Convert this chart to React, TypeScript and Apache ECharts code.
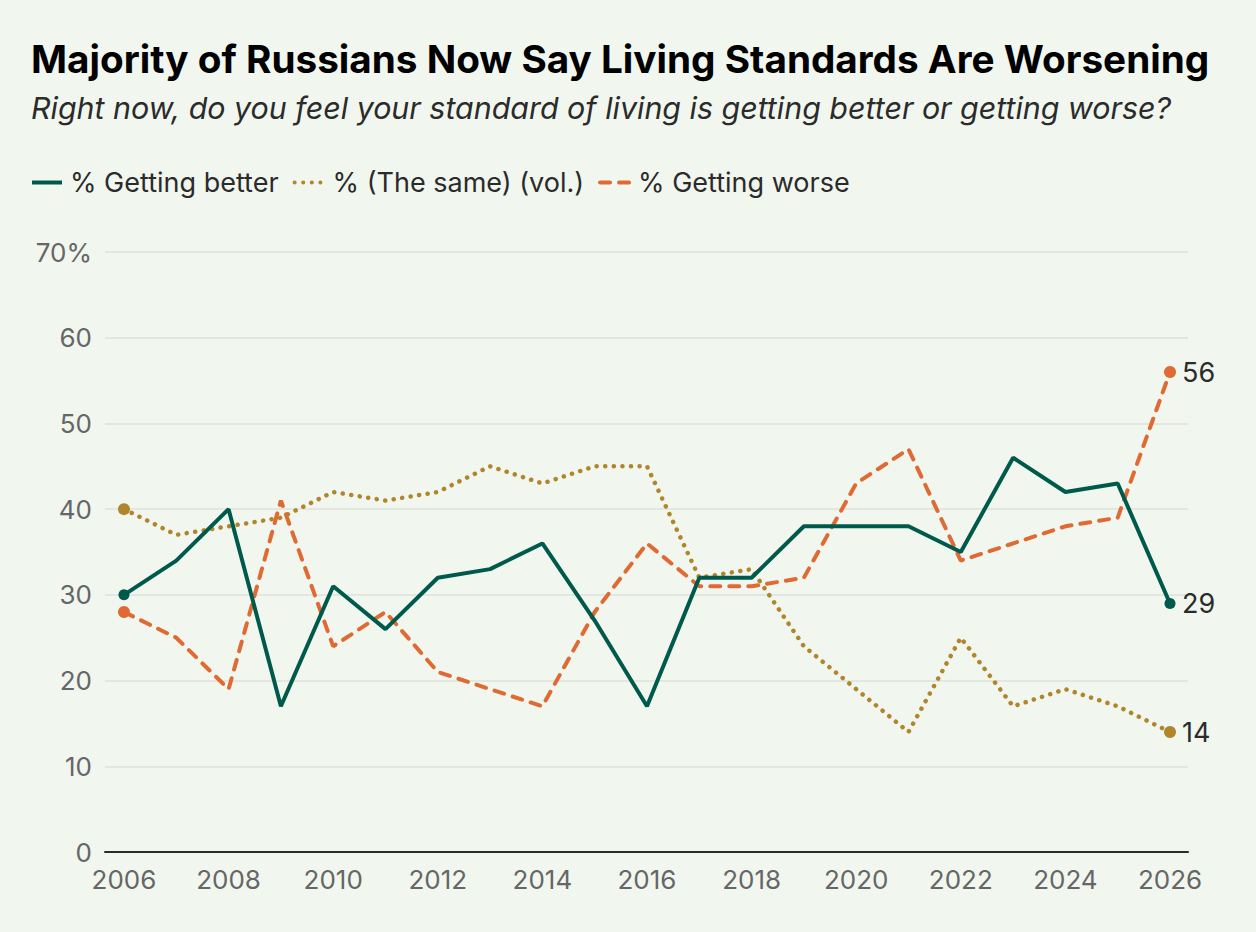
import React, { useEffect, useRef } from 'react'
import * as echarts from 'echarts'

// Survey years and values (% of respondents)
const years = [
  2006, 2007, 2008, 2009, 2010, 2011, 2012, 2013, 2014, 2015, 2016,
  2017, 2018, 2019, 2020, 2021, 2022, 2023, 2024, 2025, 2026,
]
const gettingBetter = [30, 34, 40, 17, 31, 26, 32, 33, 36, 27, 17, 32, 32, 38, 38, 38, 35, 46, 42, 43, 29]
const theSame = [40, 37, 38, 39, 42, 41, 42, 45, 43, 45, 45, 32, 33, 24, 19, 14, 25, 17, 19, 17, 14]
const gettingWorse = [28, 25, 19, 41, 24, 28, 21, 19, 17, 28, 36, 31, 31, 32, 43, 47, 34, 36, 38, 39, 56]

const xTickYears = [2006, 2008, 2010, 2012, 2014, 2016, 2018, 2020, 2022, 2024, 2026]

const FONT = 'Inter, "Noto Sans", sans-serif'

const toData = (vals: number[]) =>
  vals.map((v, i) => ({
    value: [years[i], v],
    symbol: i === 0 || i === vals.length - 1 ? 'circle' : 'none',
  }))

const App = () => {
  const chartRef = useRef<HTMLDivElement>(null)

  useEffect(() => {
    document.body.style.margin = '0'
    document.body.style.background = '#f1f7ef'
    if (!chartRef.current) return
    const chart = echarts.init(chartRef.current, undefined, { renderer: 'svg' })

    const endLabel = {
      show: true,
      formatter: (p: any) => String(p.value[1]),
      fontSize: 27,
      fontFamily: FONT,
      color: '#2b2b2b',
      distance: 12,
    }

    chart.setOption({
      animation: false,
      backgroundColor: '#f1f7ef',
      textStyle: { fontFamily: FONT },
      title: [
        {
          text: 'Majority of Russians Now Say Living Standards Are Worsening',
          left: 26,
          top: 34,
          textStyle: { fontSize: 38.7, fontWeight: 'bold', color: '#000', fontFamily: FONT },
        },
        {
          text: 'Right now, do you feel your standard of living is getting better or getting worse?',
          left: 26,
          top: 88,
          textStyle: { fontSize: 30.4, fontStyle: 'italic', fontWeight: 'normal', color: '#2b2b2b', fontFamily: FONT },
        },
      ],
      legend: {
        left: 25,
        top: 164,
        itemWidth: 30,
        itemHeight: 14,
        itemGap: 14,
        itemStyle: { opacity: 0 },
        lineStyle: { width: 4 },
        textStyle: { fontSize: 27, color: '#2b2b2b', fontFamily: FONT, padding: [0, 0, 0, 3] },
        data: ['% Getting better', '% (The same) (vol.)', '% Getting worse'],
      },
      grid: { left: 105, right: 68, top: 252, bottom: 80 },
      xAxis: {
        type: 'value',
        min: 2005.637,
        max: 2026.344,
        axisLine: { show: true, lineStyle: { color: '#2b2b2b', width: 2 } },
        axisTick: { show: false },
        splitLine: { show: false },
        axisLabel: {
          customValues: xTickYears,
          formatter: (v: number) => String(v),
          fontSize: 26,
          color: '#666',
          margin: 14,
          fontFamily: FONT,
        },
      },
      yAxis: {
        type: 'value',
        min: 0,
        max: 70,
        interval: 10,
        axisLine: { show: false },
        axisTick: { show: false },
        splitLine: { lineStyle: { color: '#dde3db', width: 1.5 } },
        axisLabel: {
          formatter: (v: number) => (v === 70 ? '70%' : String(v)),
          fontSize: 26,
          color: '#666',
          margin: 13,
          fontFamily: FONT,
        },
      },
      series: [
        {
          name: '% (The same) (vol.)',
          type: 'line',
          data: toData(theSame),
          symbol: 'none',
          symbolSize: 12,
          color: '#b0852c',
          lineStyle: { width: 4.5, type: [0.1, 8.5], cap: 'round', color: '#b0852c' },
          endLabel,
          z: 2,
        },
        {
          name: '% Getting worse',
          type: 'line',
          data: toData(gettingWorse),
          symbol: 'none',
          symbolSize: 12,
          color: '#e06a34',
          lineStyle: { width: 4, type: [10, 9], cap: 'round', color: '#e06a34' },
          endLabel,
          z: 3,
        },
        {
          name: '% Getting better',
          type: 'line',
          data: toData(gettingBetter),
          symbol: 'none',
          symbolSize: 11,
          color: '#005a4c',
          lineStyle: { width: 4, color: '#005a4c' },
          endLabel,
          z: 4,
        },
      ],
    })

    return () => {
      chart.dispose()
    }
  }, [])

  return <div ref={chartRef} style={{ width: 1256, height: 932 }} />
}

export default App
